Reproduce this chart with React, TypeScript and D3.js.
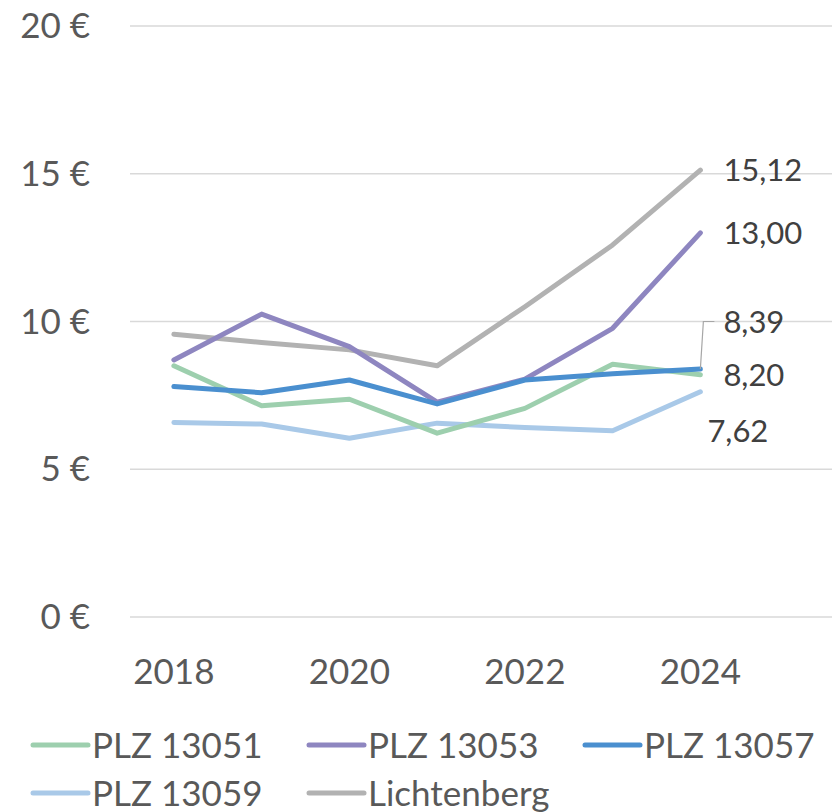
import React, { useEffect, useRef } from 'react';
import * as d3 from 'd3';

const years = ['2018', '2019', '2020', '2021', '2022', '2023', '2024', '2025'];
const tickYears = ['2018', '2020', '2022', '2024'];
const yTicks = [0, 5, 10, 15, 20];

const seriesNames = ['PLZ 13051', 'PLZ 13053', 'PLZ 13057', 'PLZ 13059', 'Lichtenberg'];
const plz13051 = [8.5, 7.15, 7.37, 6.22, 7.06, 8.55, 8.2];
const plz13053 = [8.7, 10.25, 9.15, 7.27, 8.05, 9.77, 13.0];
const plz13057 = [7.8, 7.59, 8.02, 7.21, 8.02, 8.23, 8.39];
const plz13059 = [6.58, 6.53, 6.05, 6.56, 6.41, 6.3, 7.62];
const lichtenberg = [9.57, 9.29, 9.04, 8.5, 10.5, 12.59, 15.12];
const endLabels = ['8,20', '13,00', '8,39', '7,62', '15,12'];

const colors = ['#9dcfae', '#8e86c0', '#4a8fcf', '#a9c9e8', '#b2b2b2'];
const font = 'Lato, "Open Sans", sans-serif';
const textColor = '#595959';

const App = () => {
    const svgRef = useRef<SVGSVGElement>(null);

    useEffect(() => {
        document.body.style.margin = '0';
        const width = 835, height = 812;
        const svg = d3.select(svgRef.current).attr('width', width).attr('height', height);
        svg.selectAll('*').remove();

        const x = d3.scaleBand().domain(years).range([130, 832]);
        const cx = (yr: string) => (x(yr) as number) + x.bandwidth() / 2;
        const y = d3.scaleLinear().domain([0, 20]).range([617, 26]);

        // grid + y labels
        const grid = svg.append('g');
        yTicks.forEach((t) => {
            grid.append('line')
                .attr('x1', 130).attr('x2', 832)
                .attr('y1', y(t)).attr('y2', y(t))
                .attr('stroke', '#d9d9d9').attr('stroke-width', 1.5);
            grid.append('text')
                .attr('x', 90).attr('y', y(t) + 12)
                .attr('text-anchor', 'end')
                .attr('font-family', font).attr('font-size', 35)
                .attr('fill', textColor)
                .text(`${t} €`);
        });

        // x labels
        tickYears.forEach((yr) => {
            svg.append('text')
                .attr('x', cx(yr)).attr('y', 684)
                .attr('text-anchor', 'middle')
                .attr('font-family', font).attr('font-size', 35)
                .attr('fill', textColor)
                .text(yr);
        });

        const allSeries = [plz13051, plz13053, plz13057, plz13059, lichtenberg];
        const line = d3.line<number>()
            .x((_, i) => cx(years[i]))
            .y((d) => y(d));

        // draw order: Lichtenberg at back, then others
        const order = [4, 3, 0, 1, 2];
        order.forEach((s) => {
            svg.append('path')
                .attr('d', line(allSeries[s]))
                .attr('fill', 'none')
                .attr('stroke', colors[s])
                .attr('stroke-width', 5)
                .attr('stroke-linejoin', 'round')
                .attr('stroke-linecap', 'round');
        });

        // end labels
        const last = years[6];
        const labelPos = [
            { dx: 23, y: 8.2 },
            { dx: 23, y: 13.0 },
            { dx: 23, y: 10.0 },
            { dx: 7, y: 6.3 },
            { dx: 23, y: 15.12 },
        ];
        // leader line for 8,39
        svg.append('path')
            .attr('d', `M${cx(last)},${y(plz13057[6])} L${cx(last) + 3},${y(10)} L${cx(last) + 14},${y(10)}`)
            .attr('fill', 'none').attr('stroke', '#a6a6a6').attr('stroke-width', 1.2);
        endLabels.forEach((lab, s) => {
            svg.append('text')
                .attr('x', cx(last) + labelPos[s].dx)
                .attr('y', y(labelPos[s].y) + 11)
                .attr('font-family', font).attr('font-size', 31)
                .attr('fill', '#404040')
                .text(lab);
        });

        // legend
        const legendPos = [
            { x: 33, y: 745 }, { x: 309, y: 745 }, { x: 585, y: 745 },
            { x: 33, y: 793 }, { x: 309, y: 793 },
        ];
        seriesNames.forEach((name, s) => {
            const g = svg.append('g').attr('transform', `translate(${legendPos[s].x},${legendPos[s].y})`);
            g.append('line')
                .attr('x1', 0).attr('x2', 55).attr('y1', 0).attr('y2', 0)
                .attr('stroke', colors[s]).attr('stroke-width', 5)
                .attr('stroke-linecap', 'round');
            g.append('text')
                .attr('x', 59).attr('y', 12.5)
                .attr('font-family', font).attr('font-size', 35)
                .attr('fill', textColor)
                .text(name);
        });
    }, []);

    return <svg ref={svgRef} style={{ display: 'block' }}></svg>;
};

export default App;
